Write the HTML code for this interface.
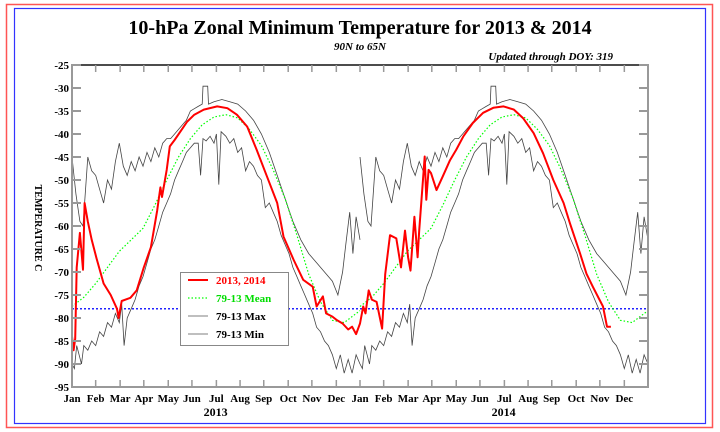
<!DOCTYPE html>
<html><head><meta charset="utf-8"><style>
html,body{margin:0;padding:0;background:#fff}
svg{display:block;font-family:"Liberation Serif",serif}
</style></head><body>
<svg id="chart" width="720" height="432" viewBox="0 0 720 432" xmlns="http://www.w3.org/2000/svg">
<rect x="6.5" y="4.5" width="706" height="423" fill="none" stroke="#f55" stroke-width="1.5"/>
<rect x="14.5" y="8.5" width="691" height="415" fill="none" stroke="#33f" stroke-width="1.2"/>
<text x="360" y="34" text-anchor="middle" font-size="20" font-weight="bold">10-hPa Zonal Minimum Temperature for 2013 &amp; 2014</text>
<text x="360" y="50" text-anchor="middle" font-size="11" font-weight="bold" font-style="italic">90N to 65N</text>
<text x="613" y="60" text-anchor="end" font-size="11" font-weight="bold" font-style="italic">Updated through DOY: 319</text>
<text transform="translate(35,228) rotate(90)" text-anchor="middle" font-size="10" font-weight="bold">TEMPERATURE C</text>
<g id="plot"></g>
<g id="axes"></g>
<g>
<rect x="180.5" y="272.5" width="108" height="73" fill="#fff" stroke="#888" stroke-width="1"/>
<line x1="188" y1="280" x2="208" y2="280" stroke="#f00" stroke-width="2"/>
<text x="216" y="284" font-size="11" font-weight="bold" fill="#f00">2013, 2014</text>
<line x1="188" y1="298" x2="208" y2="298" stroke="#0f0" stroke-width="1.2" stroke-dasharray="1.5,2"/>
<text x="216" y="302" font-size="11" font-weight="bold" fill="#0d0">79-13 Mean</text>
<line x1="188" y1="316" x2="208" y2="316" stroke="#555" stroke-width="0.8"/>
<text x="216" y="320" font-size="11" font-weight="bold">79-13 Max</text>
<line x1="188" y1="334" x2="208" y2="334" stroke="#555" stroke-width="0.8"/>
<text x="216" y="338" font-size="11" font-weight="bold">79-13 Min</text>
</g>
</svg>
<script>
const months = ["Jan","Feb","Mar","Apr","May","Jun","Jul","Aug","Sep","Oct","Nov","Dec"];
const years = ["2013","2014"];
const yTicks = [-25,-30,-35,-40,-45,-50,-55,-60,-65,-70,-75,-80,-85,-90,-95];
const refLine = -78;
const meanDays = [0,15,30,45,60,75,90,105,120,135,150,165,180,195,210,225,240,255,270,285,300,315,330,345,365];
const meanVals = [-77.5,-75.5,-72.5,-69,-65.5,-63,-60.5,-55.5,-50,-45,-41,-38,-36.3,-35.8,-36.5,-39,-42.5,-47.8,-54,-62,-70.5,-76.5,-80.5,-81,-78.4];
const maxDays = [0,5,10,14,20,25,30,35,40,45,50,55,60,65,70,75,80,85,90,95,100,105,110,115,120,125,130,135,140,145,150,155,160,165,166,172,173,180,190,200,210,220,230,240,250,260,270,280,290,300,310,320,330,337,343,347,352,356,360,365];
const maxVals = [-45,-53,-59,-60,-45,-48,-49,-52,-55,-50,-52,-46,-42,-47,-49,-46,-48,-45,-47,-44,-46,-43,-45,-42,-41,-41,-40,-39,-38,-37,-35,-34.5,-34,-33.5,-29.6,-29.6,-33.5,-33,-32.5,-33,-33.5,-35,-37,-40,-44,-49,-54,-59,-63,-66,-68,-70,-72,-75,-70,-64,-57,-66,-58,-63];
const minDays = [0,3,6,9,12,15,20,25,30,35,40,45,50,55,60,63,66,70,75,80,85,90,95,100,105,110,115,120,125,130,135,140,145,150,155,160,163,166,170,175,180,183,186,189,195,200,205,210,215,220,225,230,235,240,245,250,255,260,265,270,275,280,285,290,295,300,305,310,315,320,325,330,335,340,345,350,355,360,365];
const minVals = [-90,-91,-86,-88,-90,-86,-87,-85,-86,-83,-84,-81,-82,-79,-81,-77,-86,-80,-78,-76,-73,-71,-68,-65,-63,-60,-57,-55,-53,-50,-48,-46,-44,-43,-42,-42,-49,-41,-41.5,-40.5,-42,-40,-51,-39.5,-40.5,-42,-41,-44,-43,-48,-46,-47,-49,-50,-56,-55,-57,-59,-62,-64,-66,-69,-71,-73,-75,-77,-79,-82,-83,-85,-86,-88,-91,-88,-92,-89,-92,-88,-90];
const actDays = [0,2,4,6,10,14,16,20,25,31,40,49,57,59,63,74,82,91,100,108,112,114,120,124,130,146,155,167,184,197,209,222,234,247,260,268,281,293,305,310,318,322,330,336,343,350,355,360,365,369,372,376,380,386,393,397,403,411,417,422,426,429,434,438,440,447,449,452,455,462,470,479,487,496,508,521,534,547,560,572,585,597,610,623,631,644,652,660,669,673,678,683];
const actVals = [-84,-87,-84.5,-69,-61.5,-69.5,-55,-59,-63,-67,-72.5,-75,-78,-80,-76.3,-75.6,-74,-69,-64.6,-56.6,-51.6,-53.7,-47.8,-42.7,-41.3,-37.3,-35.8,-34.7,-34,-34.4,-35.8,-38.4,-43.4,-49.2,-55,-62.3,-67.4,-71.7,-73.2,-77.5,-75.3,-79,-79.7,-80.5,-81.2,-82.5,-81.9,-83.5,-81.2,-77.5,-79,-74,-76,-76.5,-82.3,-70.5,-62,-62.7,-69,-61,-66.8,-69.7,-58,-66.8,-61,-44.9,-54.3,-47.8,-48.5,-52.2,-49.2,-45.7,-43.4,-40.5,-37.6,-35.4,-34.3,-34,-34.7,-36.6,-39.8,-44.2,-50,-55,-59.4,-66,-70.4,-73.2,-76.2,-77.5,-81.9,-81.9];

const X0=72, X1=648, Y0=65, Y1=387, TOTAL=730;
const xs = d => X0 + d*(X1-X0)/TOTAL;
const ys = t => Y0 + (-25 - t)*(Y1-Y0)/70;
const NS="http://www.w3.org/2000/svg";
const plot=document.getElementById('plot'), axes=document.getElementById('axes');
function mk(tag, attrs, parent){const e=document.createElementNS(NS,tag);for(const k in attrs)e.setAttribute(k,attrs[k]);parent.appendChild(e);return e;}
function pts(days, vals, offset){return days.map((d,i)=>xs(d+offset).toFixed(1)+","+ys(vals[i]).toFixed(1)).join(" ");}

// reference line
let rl=mk('line',{x1:X0,x2:X1,y1:ys(refLine),y2:ys(refLine),stroke:'#22f','stroke-width':1.5,'stroke-dasharray':'2,2'},plot);



for(let y=0;y<2;y++){
  let mx=mk('polyline',{points:pts(maxDays,maxVals,y*365),fill:'none',stroke:'#444','stroke-width':0.8},plot);
  
  
  let mn=mk('polyline',{points:pts(minDays,minVals,y*365),fill:'none',stroke:'#444','stroke-width':0.8},plot);
  
  
  let me=mk('polyline',{points:pts(meanDays,meanVals,y*365),fill:'none',stroke:'#0f0','stroke-width':1.2,'stroke-dasharray':'1.5,2'},plot);
  
  
}
let act=mk('polyline',{points:pts(actDays,actVals,0),fill:'none',stroke:'#f00','stroke-width':2,'stroke-linejoin':'round'},plot);



// frame
let fr=mk('rect',{x:X0,y:Y0,width:X1-X0,height:Y1-Y0,fill:'none',stroke:'#999','stroke-width':2},axes);


mk('line',{x1:X0,x2:X1,y1:Y0,y2:Y0,stroke:'#333','stroke-width':1.5},axes);

yTicks.forEach(t=>{
  const y=ys(t);
  mk('line',{x1:X0,x2:X0+9,y1:y,y2:y,stroke:'#999','stroke-width':2},axes);
  mk('line',{x1:X1-9,x2:X1,y1:y,y2:y,stroke:'#999','stroke-width':2},axes);
  let tl=mk('text',{x:X0-3,y:y+4,'text-anchor':'end','font-size':11,'font-weight':'bold'},axes);
  tl.textContent=t;
  
  
});
for(let y=0;y<2;y++){
  months.forEach((m,i)=>{
    const d=y*365+Math.round(i*365/12);
    const x=xs(d);
    if(d>0){
      mk('line',{x1:x,x2:x,y1:Y1,y2:Y1-7,stroke:'#999','stroke-width':1.5},axes);
      mk('line',{x1:x,x2:x,y1:Y0,y2:Y0+7,stroke:'#999','stroke-width':1.5},axes);
    }
    let ml=mk('text',{x:x,y:402,'text-anchor':'middle','font-size':11,'font-weight':'bold'},axes);
    ml.textContent=m;
    
    
  });
  let yl=mk('text',{x:xs(y*365+182),y:416,'text-anchor':'middle','font-size':12,'font-weight':'bold'},axes);
  yl.textContent=years[y];
  
  
}
</script>
</body></html>
